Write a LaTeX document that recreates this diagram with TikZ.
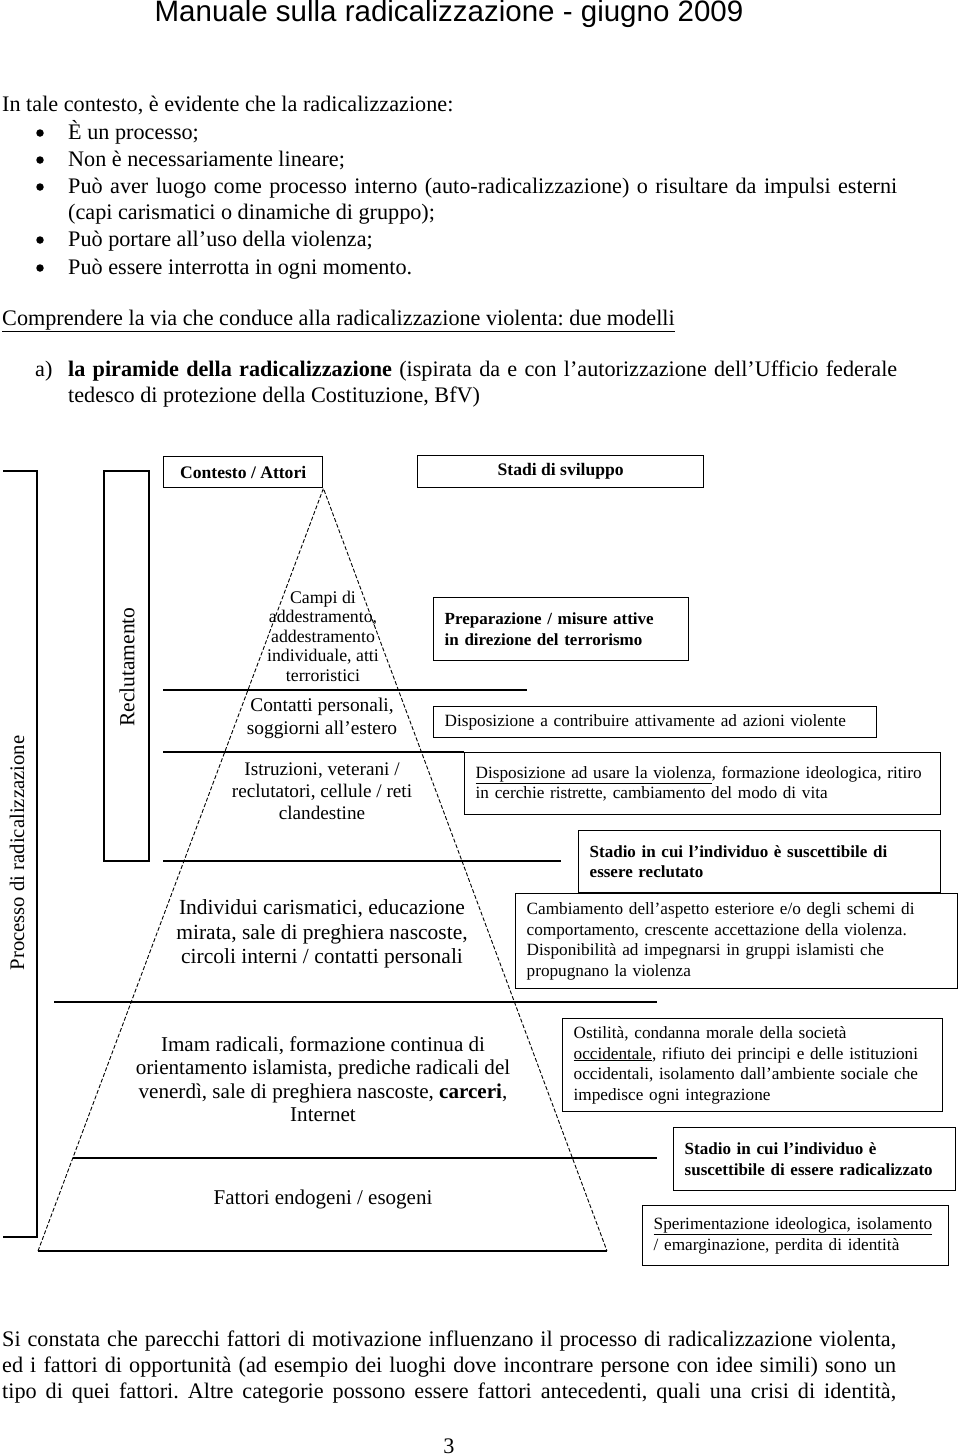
\documentclass[tikz,border=0pt]{standalone}
\usepackage{fontspec}
\setmainfont{Liberation Serif}
\setsansfont{Liberation Sans}
\usetikzlibrary{positioning}
\frenchspacing

\tikzset{
  pagetext/.style={anchor=base west,inner sep=0pt,font=\fontsize{22.2}{26}\selectfont},
  bulletdot/.style={circle,fill,inner sep=0pt,minimum size=7.5pt},
  stadiobox/.style={draw,line width=1.4pt,anchor=north west,align=left,inner xsep=11pt,inner ysep=0pt,font=\fontsize{17.2}{20.5}\selectfont},
  boldstadio/.style={stadiobox,font=\bfseries\fontsize{17}{20.5}\selectfont},
  headbox/.style={draw,line width=1.4pt,anchor=north west,inner sep=0pt,font=\bfseries\fontsize{17.6}{20}\selectfont},
  pyrtext/.style={align=center,inner sep=0pt},
  divline/.style={line width=1.3pt},
  pyrside/.style={line width=0.9pt,dash pattern=on 4pt off 2pt},
}

\begin{document}
\begin{tikzpicture}[x=1pt,y=-1pt]
\useasboundingbox (0,0) rectangle (960,1456);

% Page header and text above the figure
\node[anchor=base,inner sep=0pt,font=\sffamily\fontsize{29.5}{32}\selectfont] (header) at (449,21) {Manuale sulla radicalizzazione - giugno 2009};
\node[pagetext] (intro) at (2,111) {In tale contesto, è evidente che la radicalizzazione:};
\foreach \yy/\name in {133/b1,160/b2,187/b3,240/b5,268/b6}
  \node[bulletdot] (\name dot) at (40,\yy) {};
\node[pagetext] (b1) at (68,139) {È un processo;};
\node[pagetext] (b2) at (68,166) {Non è necessariamente lineare;};
\node[pagetext] (b3) at (68,193) {\makebox[829pt][s]{Può aver luogo come processo interno (auto-radicalizzazione) o risultare da impulsi esterni}};
\node[pagetext] (b4) at (68,219) {(capi carismatici o dinamiche di gruppo);};
\node[pagetext] (b5) at (68,246) {Può portare all’uso della violenza;};
\node[pagetext] (b6) at (68,274) {Può essere interrotta in ogni momento.};
\node[pagetext] (title) at (2,325) {\underline{Comprendere la via che conduce alla radicalizzazione violenta: due modelli}};
\node[pagetext] (itema) at (35,376) {a)};
\node[pagetext] (modela) at (68,376) {\makebox[829pt][s]{\textbf{la piramide della radicalizzazione} (ispirata da e con l’autorizzazione dell’Ufficio federale}};
\node[pagetext] (modelb) at (68,402) {tedesco di protezione della Costituzione, BfV)};

% Left brackets
\draw[divline] (3,471) -- (37,471) -- (37,1237) -- (3,1237);
\node[rotate=90,inner sep=0pt,font=\fontsize{20.7}{24}\selectfont] (processo) at (17,853) {Processo di radicalizzazione};
\draw[divline] (104,471) rectangle (149,861);
\node[rotate=90,inner sep=0pt,font=\fontsize{21.5}{24}\selectfont] (recl) at (127,667) {Reclutamento};

% Column heads
\node[headbox,minimum width=159pt,minimum height=31pt] (ctx) at (163,456) {Contesto / Attori};
\node[headbox,minimum width=286pt,minimum height=32pt] (stadi) at (417,455) {Stadi di sviluppo};

% Pyramid
\coordinate (apex) at (ctx.south east);
\coordinate (bl) at (38,1251);
\coordinate (br) at (607,1251);
\draw[pyrside] (bl) -- (apex) -- (br);
\draw[divline] (bl) -- (br);
\draw[divline] (163,690) -- (527,690);
\draw[divline] (163,752) -- (464,752);
\draw[divline] (163,861) -- (561,861);
\draw[divline] (54,1002) -- (657,1002);
\draw[divline] (73,1158) -- (657,1158);

\node[pyrtext,font=\fontsize{17.8}{19.5}\selectfont] (campi) at (323,636) {Campi di\\addestramento,\\addestramento\\individuale, atti\\terroristici};
\node[pyrtext,font=\fontsize{19.4}{23}\selectfont] (contatti) at (322,718) {Contatti personali,\\soggiorni all’estero};
\node[pyrtext,font=\fontsize{19.2}{22}\selectfont] (istruz) at (322,791) {Istruzioni, veterani /\\reclutatori, cellule / reti\\clandestine};
\node[pyrtext,font=\fontsize{21.5}{24.5}\selectfont] (individui) at (322,934) {Individui carismatici, educazione\\mirata, sale di preghiera nascoste,\\circoli interni / contatti personali};
\node[pyrtext,font=\fontsize{21.1}{23.5}\selectfont] (imam) at (323,1079) {Imam radicali, formazione continua di\\orientamento islamista, prediche radicali del\\venerdì, sale di preghiera nascoste, \textbf{carceri},\\Internet};
\node[pyrtext,font=\fontsize{21}{23}\selectfont] (fattori) at (323,1199) {Fattori endogeni / esogeni};

% Stages of development
\node[boldstadio,text width=233pt,minimum height=63pt] (prep) at (433,597) {Preparazione / misure attive\\in direzione del terrorismo};
\node[stadiobox,text width=421pt,minimum height=31pt] (contrib) at (433,706) {Disposizione a contribuire attivamente ad azioni violente};
\node[stadiobox,text width=454pt,minimum height=62pt] (disp) at (464,752) {\underline{Disposizione ad usare la violenza}, formazione ideologica, ritiro\\in cerchie ristrette, cambiamento del modo di vita};
\node[boldstadio,text width=340pt,minimum height=62pt] (reclut) at (578,830) {Stadio in cui l’individuo è suscettibile di\\essere reclutato};
\node[stadiobox,fill=white,text width=420pt,minimum height=95pt] (cambio) at (515,893) {Cambiamento dell’aspetto esteriore e/o degli schemi di\\comportamento, crescente accettazione della violenza.\\Disponibilità ad impegnarsi in gruppi islamisti che\\propugnano la violenza};
\node[stadiobox,text width=358pt,minimum height=93pt] (ostil) at (562,1018) {Ostilità, condanna morale della società\\\underline{occidentale}, rifiuto dei principi e delle istituzioni\\occidentali, isolamento dall’ambiente sociale che\\impedisce ogni integrazione};
\node[boldstadio,text width=260pt,minimum height=63pt] (radic) at (673,1127) {Stadio in cui l’individuo è\\suscettibile di essere radicalizzato};
\node[stadiobox,text width=284pt,minimum height=60pt] (sperim) at (642,1205) {\underline{Sperimentazione ideologica, isolamento}\\/ emarginazione, perdita di identità};

% Text below the figure
\node[pagetext] (p1) at (2,1346) {\makebox[894pt][s]{Si constata che parecchi fattori di motivazione influenzano il processo di radicalizzazione violenta,}};
\node[pagetext] (p2) at (2,1372) {\makebox[894pt][s]{ed i fattori di opportunità (ad esempio dei luoghi dove incontrare persone con idee simili) sono un}};
\node[pagetext] (p3) at (2,1398) {\makebox[894pt][s]{tipo di quei fattori. Altre categorie possono essere fattori antecedenti, quali una crisi di identità,}};
\node[anchor=base,inner sep=0pt,font=\fontsize{22.2}{26}\selectfont] (pagenum) at (449,1453) {3};
\end{tikzpicture}
\end{document}
